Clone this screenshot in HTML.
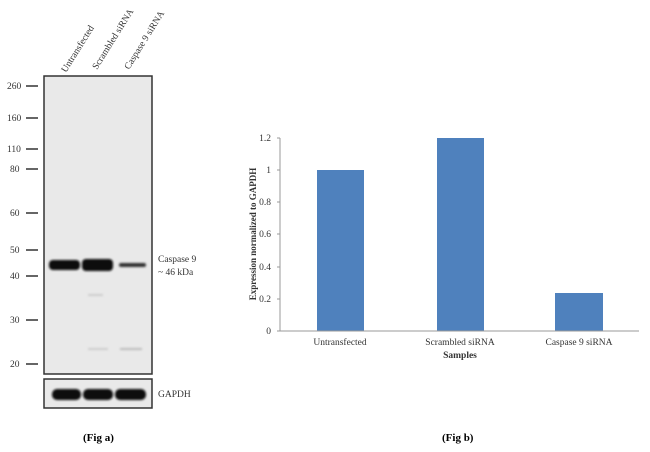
<!DOCTYPE html>
<html><head><style>
body{margin:0;width:650px;height:452px;background:#fff;position:relative;overflow:hidden;font-family:"Liberation Serif",serif;color:#222}
</style></head><body>
<svg width="650" height="452" style="position:absolute;left:0;top:0" font-family="Liberation Serif, serif">
<defs><filter id="b"><feGaussianBlur stdDeviation="1"/></filter></defs>
<rect x="44" y="76" width="108" height="298" fill="#e9e9e9" stroke="#333" stroke-width="1.5"/>
<rect x="44" y="379" width="108" height="29" fill="#e9e9e9" stroke="#333" stroke-width="1.5"/>
<g filter="url(#b)" fill="#111">
<rect x="49" y="260" width="31" height="10" rx="4"/>
<rect x="82" y="259" width="31" height="12" rx="4"/>
<rect x="119" y="263" width="27" height="4" rx="2" fill="#333"/>
<rect x="52" y="389" width="29" height="11" rx="5"/>
<rect x="83" y="389" width="30" height="11" rx="5"/>
<rect x="115" y="389" width="31" height="11" rx="5"/>
<rect x="120" y="348" width="22" height="2" fill="#bbb"/>
<rect x="88" y="348" width="20" height="2" fill="#ccc"/>
<rect x="88" y="294" width="15" height="2" fill="#ccc"/>
</g>
<g stroke="#333" stroke-width="1.5">
<line x1="26" x2="38" y1="86" y2="86"/><line x1="26" x2="38" y1="118" y2="118"/>
<line x1="26" x2="38" y1="149" y2="149"/><line x1="26" x2="38" y1="169" y2="169"/>
<line x1="26" x2="38" y1="213" y2="213"/><line x1="26" x2="38" y1="250" y2="250"/>
<line x1="26" x2="38" y1="276" y2="276"/><line x1="26" x2="38" y1="320" y2="320"/>
<line x1="26" x2="38" y1="364" y2="364"/>
</g>
<g font-size="9.5" fill="#333">
<text x="7" y="89">260</text><text x="7" y="121">160</text><text x="7" y="152">110</text>
<text x="10" y="172">80</text><text x="10" y="216">60</text><text x="10" y="253">50</text>
<text x="10" y="279">40</text><text x="10" y="323">30</text><text x="10" y="367">20</text>
<text x="158" y="262">Caspase 9</text><text x="158" y="275">~ 46 kDa</text>
<text x="158" y="397">GAPDH</text>
<text transform="translate(66,73) rotate(-58)">Untransfected</text>
<text transform="translate(97,70) rotate(-58)">Scrambled siRNA</text>
<text transform="translate(129,70) rotate(-58)">Caspase 9 siRNA</text>
</g>
<text x="83" y="441" font-size="11" font-weight="bold">(Fig a)</text>
<text x="442" y="441" font-size="11" font-weight="bold">(Fig b)</text>
<g fill="#4f81bd">
<rect x="317" y="170" width="47" height="161"/>
<rect x="437" y="138" width="47" height="193"/>
<rect x="555" y="293" width="48" height="38"/>
</g>
<line x1="280" y1="138" x2="280" y2="331" stroke="#999"/>
<line x1="280" y1="331" x2="639" y2="331" stroke="#999"/>
<g stroke="#999"><line x1="277" x2="280" y1="138" y2="138"/><line x1="277" x2="280" y1="170" y2="170"/><line x1="277" x2="280" y1="202" y2="202"/><line x1="277" x2="280" y1="234" y2="234"/><line x1="277" x2="280" y1="267" y2="267"/><line x1="277" x2="280" y1="299" y2="299"/><line x1="277" x2="280" y1="331" y2="331"/></g>
<g font-size="9.5" fill="#333" text-anchor="end">
<text x="271" y="141">1.2</text><text x="271" y="173">1</text><text x="271" y="205">0.8</text>
<text x="271" y="237">0.6</text><text x="271" y="270">0.4</text><text x="271" y="302">0.2</text><text x="271" y="334">0</text>
</g>
<g font-size="9.5" fill="#333" text-anchor="middle">
<text x="340" y="345">Untransfected</text><text x="460" y="345">Scrambled siRNA</text><text x="579" y="345">Caspase 9 siRNA</text>
<text x="460" y="358" font-weight="bold">Samples</text>
<text transform="translate(256,234) rotate(-90)" font-weight="bold" font-size="9">Expression normalized to GAPDH</text>
</g>
</svg>
</body></html>
